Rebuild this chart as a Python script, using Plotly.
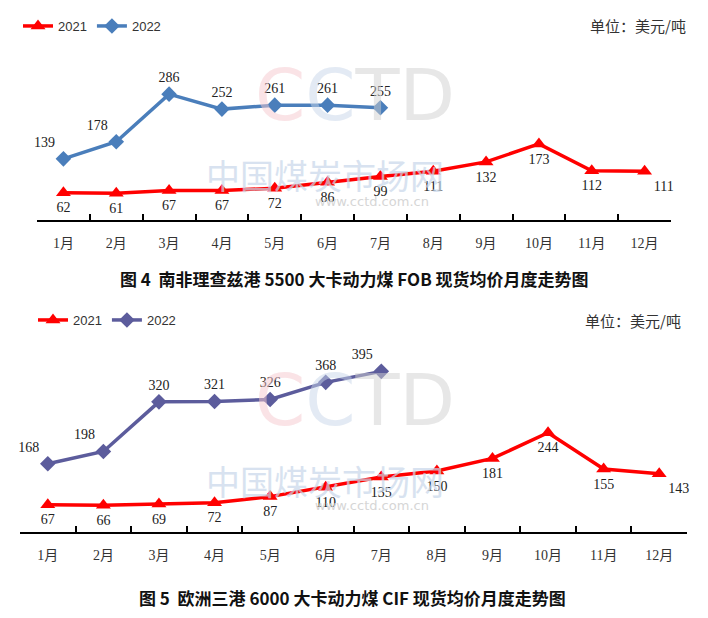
import plotly.graph_objs as go

# 月份
months = ["1月", "2月", "3月", "4月", "5月", "6月", "7月", "8月", "9月", "10月", "11月", "12月"]

# 图4 南非理查兹港 5500 FOB（美元/吨）
sa_2021 = [62, 61, 67, 67, 72, 86, 99, 111, 132, 173, 112, 111]
sa_2022 = [139, 178, 286, 252, 261, 261, 255]

# 图5 欧洲三港 6000 CIF（美元/吨）
eu_2021 = [67, 66, 69, 72, 87, 110, 135, 150, 181, 244, 155, 143]
eu_2022 = [168, 198, 320, 321, 326, 368, 395]

RED = "#ff0000"
BLUE = "#4a7ebb"
PURPLE = "#5c5c9c"
NUM_FONT = dict(family="Liberation Serif, Noto Sans CJK SC", size=14, color="#222222")

# 页面 body 自带 8px 边距，这里按窗口像素换算成 paper 坐标
W, H, OFF = 700, 610, 8


def px(x):
    return (x - OFF) / W


def py(y):
    return 1 - (y - OFF) / H


# 标签位置
sa_pos_21 = ["bottom center"] * 11 + ["bottom right"]
sa_pos_22 = ["top left", "top left"] + ["top center"] * 5
eu_pos_21 = ["bottom center"] * 11 + ["bottom right"]
eu_pos_22 = ["top left", "top left"] + ["top center"] * 4 + ["top left"]

fig = go.Figure()


def add_pair(y21, y22, c22, pos21, pos22, xa, ya, legend):
    fig.add_trace(go.Scatter(
        x=months, y=y21, name="2021", mode="lines+markers+text",
        text=[str(v) for v in y21], textposition=pos21, textfont=NUM_FONT,
        line=dict(color=RED, width=3.5),
        marker=dict(symbol="triangle-up", size=13, color=RED),
        xaxis=xa, yaxis=ya, legend=legend, cliponaxis=False))
    fig.add_trace(go.Scatter(
        x=months[:len(y22)], y=y22, name="2022", mode="lines+markers+text",
        text=[str(v) for v in y22], textposition=pos22, textfont=NUM_FONT,
        line=dict(color=c22, width=3.5),
        marker=dict(symbol="diamond", size=12, color=c22),
        xaxis=xa, yaxis=ya, legend=legend, cliponaxis=False))


add_pair(sa_2021, sa_2022, BLUE, sa_pos_21, sa_pos_22, "x", "y", "legend")
add_pair(eu_2021, eu_2022, PURPLE, eu_pos_21, eu_pos_22, "x2", "y2", "legend2")

xcommon = dict(
    type="category", range=[-0.5, 11.5], showgrid=False, zeroline=False,
    showline=True, linecolor="black", linewidth=1.5,
    ticks="inside", tickson="boundaries", ticklen=6, tickcolor="black", tickwidth=1.5,
    tickfont=dict(family="Liberation Serif, Noto Sans CJK SC", size=14, color="#333333"),
    ticklabelstandoff=9, fixedrange=True,
)
ycommon = dict(visible=False, showgrid=False, zeroline=False, fixedrange=True)

legend_common = dict(
    orientation="h", xanchor="left", yanchor="middle", bgcolor="rgba(0,0,0,0)",
    font=dict(family="Liberation Sans, Noto Sans CJK SC", size=13, color="#333333"),
    itemwidth=30, tracegroupgap=0,
)

fig.update_layout(
    width=W, height=H,
    margin=dict(l=0, r=0, t=0, b=0),
    paper_bgcolor="white", plot_bgcolor="white",
    showlegend=True,
    xaxis=dict(xcommon, domain=[px(37), px(671)], anchor="y"),
    yaxis=dict(ycommon, domain=[py(220), py(44)], range=[0, 400], anchor="x"),
    xaxis2=dict(xcommon, domain=[px(20), px(687)], anchor="y2"),
    yaxis2=dict(ycommon, domain=[py(532), py(349)], range=[0, 450], anchor="x2"),
    legend=dict(legend_common, x=px(18), y=py(26)),
    legend2=dict(legend_common, x=px(33), y=py(320)),
)

# 水印
for yc in (95, 400):
    fig.add_annotation(
        xref="paper", yref="paper", x=px(355), y=py(yc), xanchor="center", yanchor="middle",
        showarrow=False,
        text="<span style='color:#f6c9cf'>C</span><span style='color:#c9d7ea'>C</span>"
             "<span style='color:#d0d0d0'>TD</span>",
        font=dict(family="DejaVu Sans", size=72), opacity=0.5)
    fig.add_annotation(
        xref="paper", yref="paper", x=px(325), y=py(yc + 80), xanchor="center", yanchor="middle",
        showarrow=False, text="中国煤炭市场网",
        font=dict(family="Noto Sans CJK SC", size=34, color="#c8d7ea"), opacity=0.7)
    fig.add_annotation(
        xref="paper", yref="paper", x=px(372), y=py(yc + 106), xanchor="center", yanchor="middle",
        showarrow=False, text="www.cctd.com.cn",
        font=dict(family="DejaVu Sans", size=13, color="#d6d6d6"))

# 单位
for xr, yc in ((688, 26), (683, 321)):
    fig.add_annotation(
        xref="paper", yref="paper", x=px(xr), y=py(yc), xanchor="right", yanchor="middle",
        showarrow=False, text="单位：美元/吨",
        font=dict(family="Noto Sans CJK SC", size=15, color="#333333"))

# 图题
fig.add_annotation(
    xref="paper", yref="paper", x=px(354), y=py(278), xanchor="center", yanchor="middle",
    showarrow=False,
    text="<b>图 4  南非理查兹港 5500 大卡动力煤 FOB 现货均价月度走势图</b>",
    font=dict(family="Noto Sans CJK SC", size=17, color="#111111"))
fig.add_annotation(
    xref="paper", yref="paper", x=px(352), y=py(597), xanchor="center", yanchor="middle",
    showarrow=False,
    text="<b>图 5  欧洲三港 6000 大卡动力煤 CIF 现货均价月度走势图</b>",
    font=dict(family="Noto Sans CJK SC", size=17, color="#111111"))

fig.write_html("out.html")
